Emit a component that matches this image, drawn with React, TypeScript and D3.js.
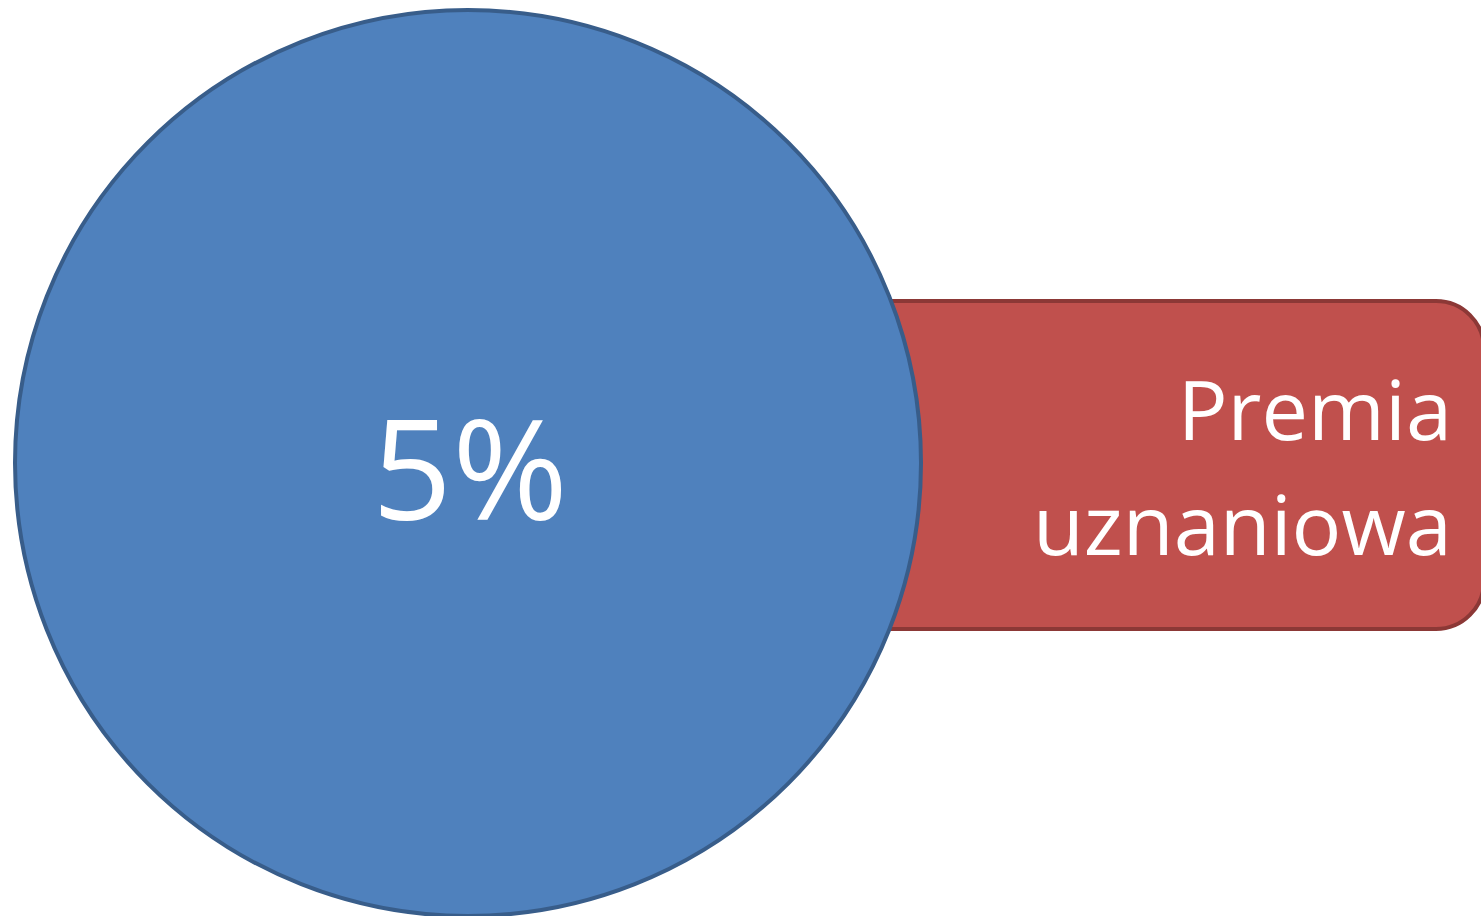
import React, { useEffect, useRef } from 'react';
import * as d3 from 'd3';

const shares = [5];
const labels = ['Premia uznaniowa'];
const labelLines = [['Premia', 'uznaniowa']];

const W = 1481;
const H = 916;

export default function App() {
  const ref = useRef<SVGSVGElement | null>(null);

  useEffect(() => {
    const svg = d3.select(ref.current);
    svg.selectAll('*').remove();

    const font = "'Open Sans', Calibri, sans-serif";

    // red label bar behind the circle
    const bar = svg.append('g');
    bar
      .selectAll('rect')
      .data(labels)
      .enter()
      .append('rect')
      .attr('x', 700)
      .attr('y', 301)
      .attr('width', 784)
      .attr('height', 328)
      .attr('rx', 48)
      .attr('fill', '#c0504d')
      .attr('stroke', '#8c3836')
      .attr('stroke-width', 4);

    const lines = labelLines[0];
    const lineY = d3.scalePoint<string>().domain(lines).range([440, 555]);
    bar
      .selectAll('text')
      .data(lines)
      .enter()
      .append('text')
      .attr('x', 1452)
      .attr('y', (d) => lineY(d)!)
      .attr('text-anchor', 'end')
      .attr('fill', 'white')
      .style('font-family', font)
      .style('font-size', '83px')
      .text((d) => d);

    // blue value circle
    const circle = svg.append('g').attr('transform', 'translate(468, 463)');
    circle
      .selectAll('circle')
      .data(shares)
      .enter()
      .append('circle')
      .attr('r', 453)
      .attr('fill', '#4f81bd')
      .attr('stroke', '#385d8a')
      .attr('stroke-width', 4);

    circle
      .selectAll('text')
      .data(shares)
      .enter()
      .append('text')
      .attr('x', 2)
      .attr('y', 57)
      .attr('text-anchor', 'middle')
      .attr('fill', 'white')
      .style('font-family', font)
      .style('font-size', '140px')
      .text((d) => `${d}%`);
  }, []);

  return (
    <svg
      ref={ref}
      width={W}
      height={H}
      style={{ position: 'absolute', left: 0, top: 0, background: 'white' }}
    />
  );
}
